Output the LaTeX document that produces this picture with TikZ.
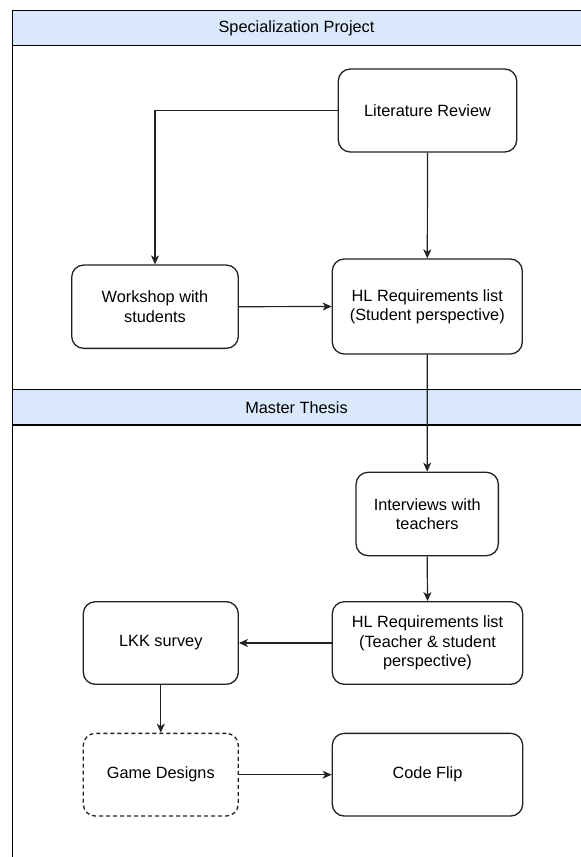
\documentclass[tikz,border=0pt]{standalone}
\usepackage{fontspec}
\setmainfont{Liberation Sans}
\usetikzlibrary{arrows.meta}
\definecolor{hdrfill}{HTML}{DAE8FC}
\definecolor{linecol}{HTML}{222222}
\tikzset{
  box/.style={draw=linecol, line width=1.3pt, rounded corners=12pt, fill=white,
    inner sep=0pt, align=center, text=black,
    font=\fontsize{16.3}{19.3}\selectfont},
  dashbox/.style={box, dash pattern=on 4pt off 3pt},
  hdr/.style={draw=black, line width=1.3pt, fill=hdrfill},
  hdrtext/.style={font=\fontsize{16.3}{19.3}\selectfont, text=black, inner sep=0pt},
  conn/.style={draw=linecol, line width=1.2pt, -{Stealth[length=9pt,width=8pt,inset=2.5pt]}},
}
\begin{document}
\begin{tikzpicture}[x=1pt,y=-1pt]
\useasboundingbox (0,0) rectangle (581,857);
% frame and headers
\draw[line width=1.3pt, black] (12.3,870) -- (12.3,10.5) -- (600,10.5);
\draw[hdr] (12.3,10.5) rectangle (600,45.7);
\node[hdrtext] (h1) at (296.5,28.1) {Specialization Project};
\draw[hdr] (12.3,389.3) rectangle (600,425);
\node[hdrtext] (h2) at (296.5,407.2) {Master Thesis};
% nodes
\node[box, minimum width=178.4pt, minimum height=83pt] (lit) at (427.5,110.5) {Literature Review};
\node[box, minimum width=166.6pt, minimum height=83.3pt] (ws) at (155,306.7) {Workshop with\\students};
\node[box, minimum width=190pt, minimum height=95pt] (hl1) at (427.3,306.5) {HL Requirements list\\(Student perspective)};
\node[box, minimum width=142.3pt, minimum height=83.4pt] (int) at (427.2,514) {Interviews with\\teachers};
\node[box, minimum width=190.4pt, minimum height=82.6pt] (hl2) at (427.5,643) {HL Requirements list\\(Teacher \& student\\perspective)};
\node[box, minimum width=155pt, minimum height=82.6pt] (lkk) at (160.8,643) {LKK survey};
\node[dashbox, minimum width=155pt, minimum height=82.7pt] (gd) at (160.8,774.7) {Game Designs};
\node[box, minimum width=190.4pt, minimum height=82.7pt] (cf) at (427.5,774.7) {Code Flip};
% connectors
\draw[conn] (lit.west) -| (ws.north);
\draw[conn] (lit.south) -- (hl1.north);
\draw[conn] (ws.east) -- (hl1.west);
\draw[conn] (hl1.south) -- (int.north);
\draw[conn] (int.south) -- (hl2.north);
\draw[conn] (hl2.west) -- (lkk.east);
\draw[conn] (lkk.south) -- (gd.north);
\draw[conn] (gd.east) -- (cf.west);
\end{tikzpicture}
\end{document}
